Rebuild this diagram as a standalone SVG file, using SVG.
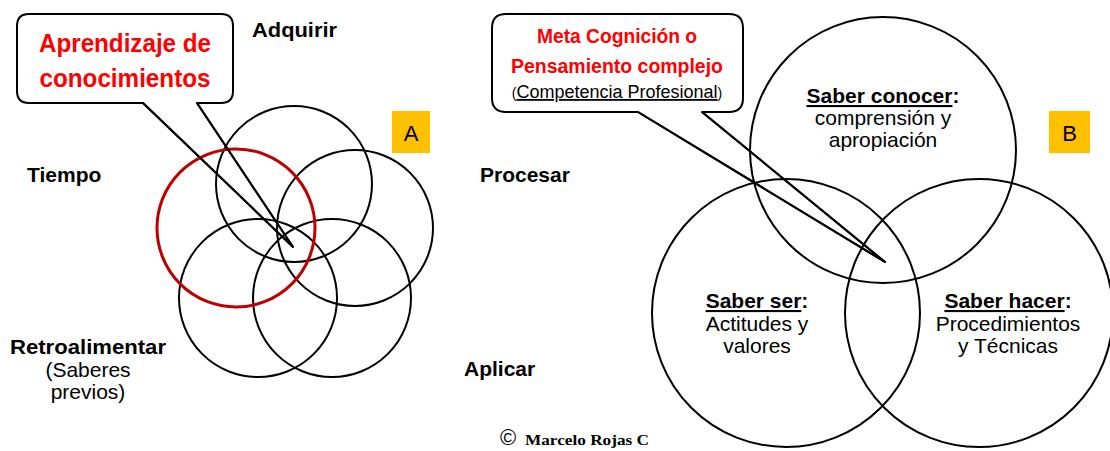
<svg xmlns="http://www.w3.org/2000/svg" width="1110" height="451" viewBox="0 0 1110 451">
<style>
.c{fill:none;stroke:#000;stroke-width:2}
.red{fill:none;stroke:#C00000;stroke-width:3}
.call{fill:#fff;stroke:#000;stroke-width:2;stroke-linejoin:round}
.t{font-family:"Liberation Sans",Arial,sans-serif;fill:#000}
.b{font-weight:bold}
.rt{font-family:"Liberation Sans",Arial,sans-serif;font-weight:bold;fill:#FF0000;text-anchor:middle}
.m{text-anchor:middle}
.box{fill:#FFC000}
</style>
<rect width="1110" height="451" fill="#fff"/>
<g id="callout-a">
<path class="call" d="M29,14 H221 Q233,14 233,26 V91 Q233,103 221,103 H197 L293,247 L143,103 H29 Q17,103 17,91 V26 Q17,14 29,14 Z"/>
<text class="rt" x="125" y="52" font-size="25.500" textLength="172" lengthAdjust="spacingAndGlyphs">Aprendizaje de</text>
<text class="rt" x="125" y="87" font-size="25.500" textLength="171" lengthAdjust="spacingAndGlyphs">conocimientos</text>
</g>
<g id="callout-b">
<path class="call" d="M506,14 H729 Q743,14 743,28 V98 Q743,112 729,112 H702 L885,262 L638,112 H506 Q492,112 492,98 V28 Q492,14 506,14 Z"/>
<text class="rt" x="617" y="43" font-size="20.500" textLength="160" lengthAdjust="spacingAndGlyphs">Meta Cognición o</text>
<text class="rt" x="617" y="73" font-size="20.500" textLength="212" lengthAdjust="spacingAndGlyphs">Pensamiento complejo</text>
<text class="t m" x="617" y="98" font-size="18"><tspan font-size="14">(</tspan><tspan text-decoration="underline">Competencia Profesional</tspan><tspan font-size="14">)</tspan></text>
</g>
<g id="circles-a">
<circle id="a-top" class="c" cx="294" cy="184" r="78"/>
<circle id="a-right" class="c" cx="355" cy="228" r="78"/>
<circle id="a-botleft" class="c" cx="258" cy="298" r="79"/>
<circle id="a-botright" class="c" cx="332" cy="298" r="79"/>
<circle id="a-red" class="red" cx="236" cy="228" r="79"/>
</g>
<g id="connectors">
<line class="c" x1="143" y1="103" x2="293" y2="247"/>
<line class="c" x1="197" y1="103" x2="293" y2="247"/>
<line class="c" x1="638" y1="112" x2="885" y2="262"/>
<line class="c" x1="702" y1="112" x2="885" y2="262"/>
</g>
<g id="labels-a">
<text class="t b" x="252" y="37" font-size="21" textLength="85" lengthAdjust="spacingAndGlyphs">Adquirir</text>
<text class="t b" x="27" y="182" font-size="21">Tiempo</text>
<text class="t b" x="10" y="354" font-size="21" textLength="156" lengthAdjust="spacingAndGlyphs">Retroalimentar</text>
<text class="t m" x="88" y="377" font-size="21">(Saberes</text>
<text class="t m" x="88" y="399" font-size="21">previos)</text>
</g>
<g id="box-a">
<rect class="box" x="392" y="111" width="38" height="42"/>
<text class="t m" x="411" y="141" font-size="22">A</text>
</g>
<g id="labels-mid">
<text class="t b" x="480" y="182" font-size="21">Procesar</text>
<text class="t b" x="464" y="376" font-size="21">Aplicar</text>
</g>
<g id="circle-conocer">
<circle class="c" cx="883" cy="150" r="133"/>
<text class="t m" x="883" y="103" font-size="21"><tspan class="b" text-decoration="underline">Saber conocer</tspan><tspan class="b">:</tspan></text>
<text class="t m" x="883" y="125" font-size="21">comprensión y</text>
<text class="t m" x="883" y="147" font-size="21">apropiación</text>
</g>
<g id="circle-ser">
<circle class="c" cx="786" cy="313" r="134"/>
<text class="t m" x="757" y="308" font-size="21"><tspan class="b" text-decoration="underline">Saber ser</tspan><tspan class="b">:</tspan></text>
<text class="t m" x="757" y="331" font-size="21">Actitudes y</text>
<text class="t m" x="757" y="353" font-size="21">valores</text>
</g>
<g id="circle-hacer">
<circle class="c" cx="979" cy="313" r="134"/>
<text class="t m" x="1008" y="308" font-size="21"><tspan class="b" text-decoration="underline">Saber hacer</tspan><tspan class="b">:</tspan></text>
<text class="t m" x="1008" y="331" font-size="21">Procedimientos</text>
<text class="t m" x="1008" y="353" font-size="21">y Técnicas</text>
</g>
<g id="box-b">
<rect class="box" x="1049" y="111" width="41" height="42"/>
<text class="t m" x="1069.500" y="141" font-size="22">B</text>
</g>
<g id="credit">
<text class="t" x="500" y="445" font-size="22">©</text>
<text x="525" y="445" font-size="15" font-weight="bold" font-family="'Liberation Serif','Times New Roman',serif" textLength="124" lengthAdjust="spacingAndGlyphs">Marcelo Rojas C</text>
</g>
</svg>
